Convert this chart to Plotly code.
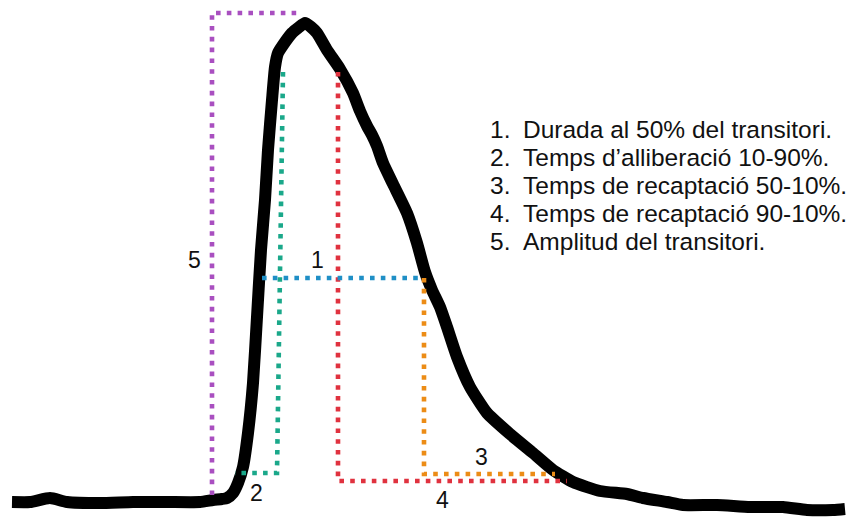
import plotly.graph_objects as go

H = 519
# Trace of the calcium transient (time, signal)
time = [12, 30, 50, 67, 100, 133, 167, 200, 213, 222, 227, 233, 238, 243, 248, 253,
        257, 261, 265, 268, 272, 275, 278, 283, 292, 298, 305, 311, 317, 327, 340,
        353, 360, 367, 372, 377, 383, 393, 407, 417, 425, 432, 440, 447, 457, 470,
        487, 510, 533, 553, 573, 600, 627, 643, 667, 683, 717, 750, 783, 807, 833, 845]
pix_y = [502, 502, 498, 502, 503, 502, 502, 502, 500, 499, 498, 493, 483, 467, 433, 383,
         317, 250, 200, 150, 100, 67, 53, 45, 33, 28, 23, 27, 33, 50, 69,
         93, 111, 126, 135, 146, 163, 184, 213, 243, 272, 290, 307, 327, 357, 387,
         413, 434, 453, 470, 482, 491, 494, 498, 502, 505, 505, 507, 507, 510, 510, 509]
signal = [H - v for v in pix_y]

# Guide levels and times
t_onset = 212
t_peak_end = 301
amp_top = H - 13
amp_bottom = H - 495
lvl90 = H - 72
lvl50 = H - 278
lvl10_rise = H - 473
lvl10_decay50 = H - 474
lvl10_decay90 = H - 481
t10_rise = 235
t90_rise_top = 283
t90_rise_bot = 277
t50_rise = 262
t90_decay = 338
t50_decay = 424
t10_decay_a = 555
t10_decay_b = 567

guides = [
    ("#a94fc0", [t_onset, t_onset, t_peak_end], [amp_bottom, amp_top, amp_top]),
    ("#1aa88a", [t90_rise_top, t90_rise_bot, t10_rise], [lvl90, lvl10_rise, lvl10_rise]),
    ("#e0323f", [t90_decay, t90_decay, t10_decay_b], [lvl90, lvl10_decay90, lvl10_decay90]),
    ("#ec8c16", [t50_decay, t50_decay, t10_decay_a], [lvl50, lvl10_decay50, lvl10_decay50]),
    ("#1f8fc6", [t50_rise, t50_decay], [lvl50, lvl50]),
]

labels = ["5", "1", "2", "3", "4"]
label_x = [194, 317, 256, 481, 442]
label_y = [H - 260, H - 260, H - 493, H - 457, H - 500]

legend_nums = ["1.", "2.", "3.", "4.", "5."]
legend_texts = ["Durada al 50% del transitori.",
                "Temps d\u2019alliberaci\u00f3 10-90%.",
                "Temps de recaptaci\u00f3 50-10%.",
                "Temps de recaptaci\u00f3 90-10%.",
                "Amplitud del transitori."]
legend_y = [H - 129, H - 157, H - 185, H - 213, H - 241]

fig = go.Figure()
fig.add_trace(go.Scatter(x=time, y=signal, mode="lines",
                         line=dict(color="black", width=12, shape="spline", smoothing=0.5),
                         hoverinfo="skip", showlegend=False))
for color, gx, gy in guides:
    fig.add_trace(go.Scatter(x=gx, y=gy, mode="lines",
                             line=dict(color=color, width=4.6, dash="4.6px,6.2px"),
                             hoverinfo="skip", showlegend=False))

FONT = "Liberation Sans, Arial, sans-serif"
anns = []
for t, x, y in zip(labels, label_x, label_y):
    anns.append(dict(x=x, y=y, text=t, showarrow=False, xanchor="center", yanchor="middle",
                     font=dict(family=FONT, size=23, color="#111")))
for n, t, y in zip(legend_nums, legend_texts, legend_y):
    anns.append(dict(x=488, y=y, text=n, showarrow=False, xanchor="left", yanchor="middle",
                     font=dict(family=FONT, size=24.5, color="#111")))
    anns.append(dict(x=521, y=y, text=t, showarrow=False, xanchor="left", yanchor="middle",
                     font=dict(family=FONT, size=24.5, color="#111")))

fig.update_layout(
    width=855, height=519,
    margin=dict(l=0, r=0, t=0, b=0),
    paper_bgcolor="white", plot_bgcolor="white",
    xaxis=dict(range=[0, 855], visible=False),
    yaxis=dict(range=[0, H], visible=False),
    annotations=anns,
)
fig.write_html("out.html")
